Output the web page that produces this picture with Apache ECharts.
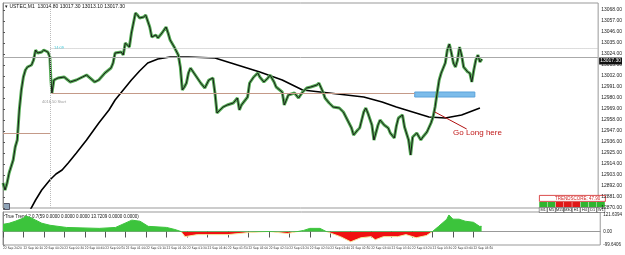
<!DOCTYPE html>
<html><head><meta charset="utf-8">
<script src="https://cdn.jsdelivr.net/npm/echarts@6/dist/echarts.min.js"></script>
<style>html,body{margin:0;padding:0;background:#fff}#c{width:625px;height:255px}</style>
</head><body><div id="c"></div>
<script>
// ---- data (minutes from chart start, price) ----
const priceT = [0,1,2,3,5,6,7,8,9,10,11,12,14,15,16,17,19,20,22,23,23.5,24,25,27,30,33,36,39,41,45,47,50,53,54,55,58,59,60,62,63,65,66,67,69,70,72,73,75,76,78,80,81,82,84,86,87,88,89,90,91,92,95,97,99,101,103,104,105,108,110,113,115,116,117,120,121,123,125,126,128,130,131,133,134,137,138,140,143,145,147,149,151,154,155,157,158,160,162,165,167,169,171,172,174,175,177,178,179,181,182,184,185,187,189,190,192,193,194,196,197,199,200,201,203,205,206,208,210,211,212,213,214,215,217,218,219,220,221,222,223,224,225,226,228,229,230,231,232,233,234,235];
const priceV = [12895,12888,12895,12905,12918,12931,12938,12968,12988,13001,13008,13011,13013,13018,13028,13025,13026,13028,13026,13021,12998,12985,12998,13000,13001,12996,12998,13001,13003,12996,12998,13005,13010,13015,13025,13026,13023,13035,13031,13045,13065,13063,13060,13061,13063,13051,13041,13043,13040,13045,13051,13045,13038,13031,13023,13011,12988,12991,12995,13005,13010,13001,12995,12990,12998,13000,12985,12965,12971,12973,12975,12980,12968,12973,12981,12995,13001,13005,13001,12996,13000,13003,12996,12991,12986,12973,12983,12985,12980,12986,12990,12991,12993,12995,12986,12980,12975,12971,12970,12966,12958,12950,12943,12948,12950,12966,12970,12965,12953,12938,12953,12958,12953,12950,12945,12940,12952,12960,12963,12951,12938,12923,12941,12945,12938,12941,12946,12955,12961,12971,12985,12998,13005,13015,13028,13034,13025,13015,13011,13018,13031,13023,13011,13006,13005,12996,13008,13018,13023,13016,13019];
const maT = [12,16,19,23,26,29,32,36,41,47,52,55,59,63,67,71,76,82,91,104,115,126,137,147,160,177,186,193,201,209,217,225,234];
const maV = [12863,12878,12888,12898,12904,12908,12915,12925,12938,12955,12968,12978,12988,12998,13007,13015,13019,13021,13021,13020,13013,13006,12998,12988,12985,12981,12976,12971,12966,12961,12960,12963,12970];
const trendT = [0,3,6,10,11,13,16,19,23,31,47,55,63,67,71,80,84,87,89,95,100,110,120,130,139,147,150,155,158,165,170,175,180,182,186,193,197,202,207,210,213,217,218,220,223,226,230,233,234];
const trendV = [53,61,76,99,114,106,84,61,46,30,23,30,84,76,38,30,15,0,-38,-23,-23,-23,-8,0,-15,8,23,23,0,-38,-76,-46,-38,-61,-38,-38,-23,-46,-30,0,38,91,122,91,91,76,68,38,38];
const timeLabels = ['22 Sep 2020','22 Sep 00:10','22 Sep 00:20','22 Sep 00:30','22 Sep 00:40','22 Sep 00:50','22 Sep 01:00','22 Sep 01:10','22 Sep 01:20','22 Sep 01:30','22 Sep 01:40','22 Sep 01:50','22 Sep 02:00','22 Sep 02:10','22 Sep 02:20','22 Sep 02:30','22 Sep 02:40','22 Sep 02:50','22 Sep 03:00','22 Sep 03:10','22 Sep 03:20','22 Sep 03:30','22 Sep 03:40','22 Sep 03:50'];
const trendTicks = [121.6394, 0, -99.6406];
const trendMin = -99.6406, trendMax = 144;
const lastPrice = 13021, lastLabel = '13017.30';
const dottedLevel = 13030, levelA = 12945, levelB = 12985, startT = 23.3;
const zoneT = [202, 231.5], zoneV = [12981, 12986];
const arrowT = [211.9, 227.5], arrowV = [12966, 12949];

const zip = (a, b) => a.map((x, i) => [x, b[i]]);
const priceData = zip(priceT, priceV);
const trendData = zip(trendT, trendV);
const FONT = 'Liberation Sans';
const NARROW = 'Liberation Sans Narrow, DejaVu Sans Condensed, Liberation Sans';
const chart = echarts.init(document.getElementById('c'));
const labelTicks = timeLabels.map((_, i) => i * 10);

const G2_TOP = 212, G2_H = 33;
const zeroFrac = trendMax / (trendMax - trendMin);
const splitGrad = (up, down) => new echarts.graphic.LinearGradient(0, G2_TOP, 0, G2_TOP + G2_H, [
  {offset: 0, color: up}, {offset: zeroFrac, color: up}, {offset: zeroFrac, color: down}, {offset: 1, color: down}
], true);

chart.setOption({
  animation: false,
  textStyle: {fontFamily: FONT},
  grid: [
    {left: 3, right: 20, top: 3, height: 205, show: true, borderColor: '#999', borderWidth: 1},
    {left: 3, right: 20, top: G2_TOP, height: G2_H, show: true, borderColor: '#999', borderWidth: 1}
  ],
  xAxis: [
    {type: 'value', gridIndex: 0, min: 0, max: 292, axisLine: {show: false}, axisTick: {show: false}, axisLabel: {show: false}, splitLine: {show: false}},
    {type: 'value', gridIndex: 1, min: 0, max: 292, interval: 10,
      axisLine: {show: true, lineStyle: {color: '#999'}},
      axisTick: {show: true, length: 6, customValues: labelTicks, lineStyle: {color: '#555'}},
      axisLabel: {show: true, customValues: labelTicks, fontSize: 3.3, fontFamily: NARROW, color: '#222', align: 'left', margin: 2,
        showMinLabel: true, showMaxLabel: true, hideOverlap: false,
        formatter: v => timeLabels[Math.round(v / 10)] || ''},
      splitLine: {show: false}}
  ],
  yAxis: [
    {type: 'value', gridIndex: 0, position: 'right', min: 12870, max: 13075, interval: 11,
      axisLine: {show: true, lineStyle: {color: '#888'}},
      axisTick: {show: true, length: 2, lineStyle: {color: '#555'}},
      axisLabel: {fontSize: 5, color: '#222', margin: 3, showMaxLabel: false, formatter: v => v.toFixed(2)},
      splitLine: {show: false}},
    {type: 'value', gridIndex: 1, position: 'right', min: trendMin, max: trendMax,
      axisLine: {show: true, lineStyle: {color: '#888'}},
      axisTick: {show: true, length: 2, customValues: trendTicks},
      axisLabel: {fontSize: 4.5, color: '#222', margin: 3, customValues: trendTicks, formatter: v => v === 0 ? '0.00' : v.toFixed(4)},
      splitLine: {show: false}}
  ],
  series: [
    {type: 'line', xAxisIndex: 0, yAxisIndex: 0, data: zip(maT, maV), showSymbol: false, lineStyle: {color: '#000', width: 1.6}, z: 2},
    {type: 'line', xAxisIndex: 0, yAxisIndex: 0, data: priceData, showSymbol: false, lineStyle: {color: '#55ad55', width: 3}, z: 3,
      markLine: {symbol: 'none', silent: true, animation: false, data: [
        {yAxis: lastPrice, lineStyle: {color: '#aaa', type: 'solid', width: 1},
          label: {show: true, position: 'end', formatter: lastLabel, color: '#fff', backgroundColor: '#111', fontSize: 5, padding: [1, 1], distance: 1, offset: [0, 4]}},
        [{coord: [startT, dottedLevel]}, {coord: [292, dottedLevel]}],
        [{coord: [0, levelA], lineStyle: {color: '#c49a88', type: 'solid', width: 1}}, {coord: [startT, levelA]}],
        [{coord: [startT + 0.5, levelB], lineStyle: {color: '#c49a88', type: 'solid', width: 1}}, {coord: [zoneT[0], levelB]}],
        {xAxis: startT, lineStyle: {color: '#bbb', type: 'dotted', width: 1}, label: {show: false}},
        [{coord: [arrowT[0], arrowV[0]], lineStyle: {color: '#b01010', type: 'solid', width: 1}}, {coord: [arrowT[1], arrowV[1]]}]
      ], lineStyle: {color: '#bbb', type: 'dotted', width: 1}, label: {show: false}},
      markArea: {silent: true, data: [[{coord: [zoneT[0], zoneV[1]], itemStyle: {color: '#7cbcea', borderColor: '#5aa2da', borderWidth: 1}}, {coord: [zoneT[1], zoneV[0]]}]]}
    },
    {type: 'line', xAxisIndex: 0, yAxisIndex: 0, data: priceData, showSymbol: false, lineStyle: {color: '#1a1a1a', width: 1}, z: 4},
    {type: 'line', xAxisIndex: 1, yAxisIndex: 1, data: trendData, showSymbol: false,
      lineStyle: {width: 1, color: splitGrad('#3cc43c', '#f3e7a0')},
      areaStyle: {opacity: 1, color: splitGrad('#3cc43c', '#f01010')}, z: 2}
  ],
  graphic: [
    {type: 'text', left: 5, top: 4, style: {text: '\u25BE USTEC,M1  13014.80 13017.30 13013.10 13017.30', fontSize: 5, fill: '#111', fontFamily: FONT}},
    {type: 'text', left: 5, top: 214, style: {text: 'True Trend 2.0.7(59 0.0000 0.0000 0.0000 13.7209 0.0000 0.0000)', fontSize: 4.5, fill: '#111', fontFamily: FONT}},
    {type: 'text', left: 54, top: 46, style: {text: '14:09', fontSize: 4, fill: '#3cc8d8', fontFamily: FONT}},
    {type: 'text', left: 42, top: 100, style: {text: '4016.50 Start', fontSize: 4, fill: '#999', fontFamily: FONT}},
    {type: 'text', left: 453, top: 129, style: {text: 'Go Long here', fontSize: 8, fill: '#c01818', fontFamily: FONT}},
    {type: 'rect', left: 3, top: 203, shape: {width: 6, height: 6}, style: {fill: '#8fa4b8', stroke: '#556'}},
    {type: 'rect', left: 539, top: 195, shape: {width: 66, height: 6}, style: {fill: '#fff', stroke: '#d02020', lineWidth: 0.8}},
    {type: 'text', left: 555, top: 196, style: {text: 'TRENDSCORE: 47.90', fontSize: 4.5, fill: '#d02020', fontFamily: FONT}},
    {type: 'group', left: 539, top: 202, children: [
      ...['#2fb52f','#2fb52f','#e01818','#e01818','#e01818','#2fb52f','#2fb52f','#2fb52f'].map((c, i) => ({type: 'rect', shape: {x: i * 8.25, y: 0, width: 7.8, height: 5}, style: {fill: c}})),
      ...['M1','M5','M15','M30','H1','H4','D1','W1'].map((t, i) => ({type: 'rect', shape: {x: i * 8.25, y: 5.5, width: 7.8, height: 5}, style: {fill: '#fff', stroke: '#333', lineWidth: 0.5}})),
      ...['M1','M5','M15','M30','H1','H4','D1','W1'].map((t, i) => ({type: 'text', x: i * 8.25 + 3.9, y: 6, style: {text: t, fontSize: 3.8, fill: '#111', align: 'center', fontFamily: FONT}}))
    ]}
  ]
});
</script></body></html>
